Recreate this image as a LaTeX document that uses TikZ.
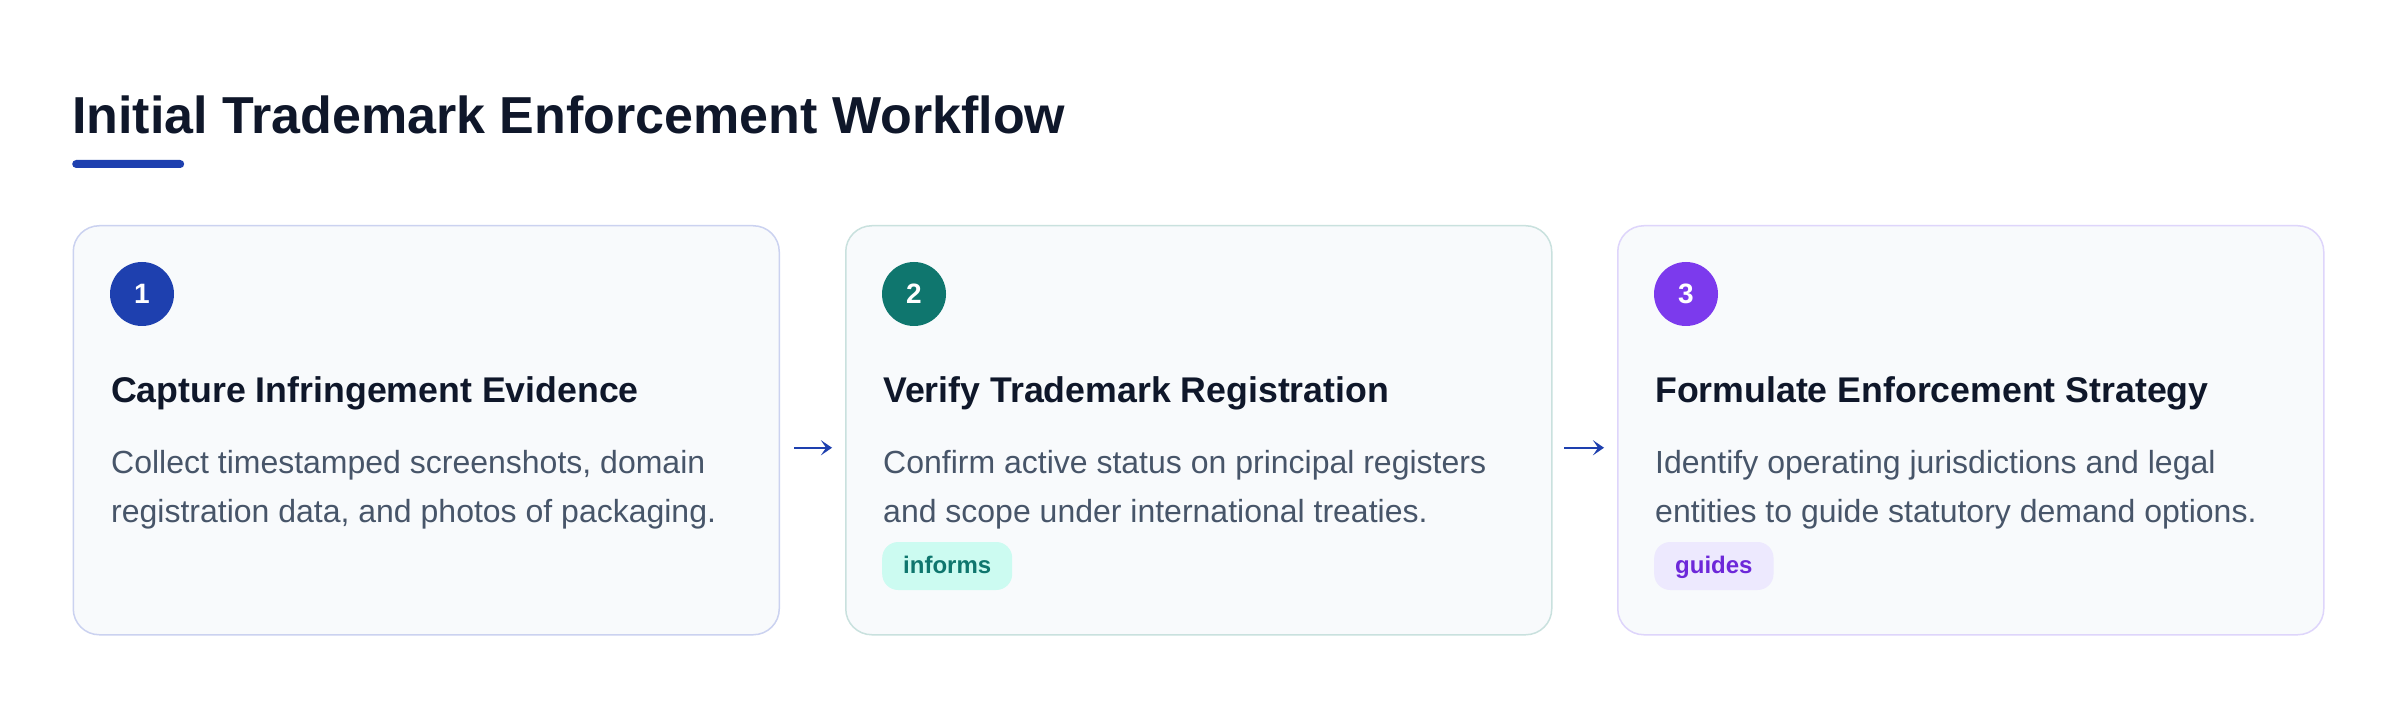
\documentclass[tikz,border=0pt]{standalone}
\usepackage{fontspec}
\setmainfont{Liberation Sans}
\usetikzlibrary{arrows.meta,calc}
\definecolor{ink}{HTML}{0F172A}
\definecolor{bodyc}{HTML}{475569}
\definecolor{cardbg}{HTML}{F8FAFC}
\definecolor{blueA}{HTML}{1E40AF}
\definecolor{tealA}{HTML}{0F766E}
\definecolor{violetA}{HTML}{7C3AED}
\definecolor{bordA}{HTML}{CBD2F0}
\definecolor{bordB}{HTML}{C9E1DE}
\definecolor{bordC}{HTML}{DED5FB}
\definecolor{pillB}{HTML}{CCFBF1}
\definecolor{pillBtext}{HTML}{0F766E}
\definecolor{pillC}{HTML}{EDE9FE}
\definecolor{pillCtext}{HTML}{6D28D9}
\begin{document}
\begin{tikzpicture}[x=1pt,y=-1pt,
  card/.style={draw=#1, line width=1.5pt, fill=cardbg, rounded corners=26pt,
    minimum width=706pt, minimum height=409pt, inner sep=0pt, anchor=north west},
  badge/.style={circle, fill=#1, minimum size=64pt, inner sep=0pt, text=white,
    font=\fontsize{28}{34}\selectfont\bfseries},
  heading/.style={anchor=base west, inner sep=0pt, text=ink,
    font=\fontsize{35.7}{43}\selectfont\bfseries},
  bodytext/.style={anchor=base west, inner sep=0pt, text=bodyc,
    font=\fontsize{32}{49}\selectfont},
  pill/.style={anchor=base west, fill=#1, rounded corners=16pt, inner xsep=21pt,
    inner ysep=0pt, text height=31pt, text depth=17pt,
    font=\fontsize{24}{29}\selectfont\bfseries},
  flow/.style={draw=blueA, line width=2pt,
    -{Stealth[length=11pt,width=15pt,inset=5pt]}}
]
\useasboundingbox[fill=white] (0,0) rectangle (2400,708);

% title
\node[anchor=base west, inner sep=0pt, text=ink,
  font=\fontsize{52}{62}\selectfont\bfseries] (title) at (72,134)
  {Initial Trademark Enforcement Workflow};
\node[fill=blueA, rounded corners=4pt, minimum width=112pt, minimum height=8pt,
  inner sep=0pt, anchor=west] (rule) at (72,164) {};

% cards
\node[card=bordA] (c1) at (72.5,225) {};
\node[card=bordB] (c2) at (845,225) {};
\node[card=bordC] (c3) at (1617,225) {};

% card 1
\node[badge=blueA] (b1) at ($(c1.north west)+(69.5,69)$) {1};
\node[heading] (h1) at ($(c1.north west)+(38.5,177)$) {Capture Infringement Evidence};
\node[bodytext] (t1) at ($(c1.north west)+(38.5,248)$)
  {\parbox[t]{660pt}{Collect timestamped screenshots, domain\\registration data, and photos of packaging.}};

% card 2
\node[badge=tealA] (b2) at ($(c2.north west)+(69,69)$) {2};
\node[heading] (h2) at ($(c2.north west)+(38,177)$) {Verify Trademark Registration};
\node[bodytext] (t2) at ($(c2.north west)+(38,248)$)
  {\parbox[t]{660pt}{Confirm active status on principal registers\\and scope under international treaties.}};
\node[pill=pillB, text=pillBtext] (p2) at ($(c2.north west)+(37,348)$) {informs};

% card 3
\node[badge=violetA] (b3) at ($(c3.north west)+(69,69)$) {3};
\node[heading] (h3) at ($(c3.north west)+(38,177)$) {Formulate Enforcement Strategy};
\node[bodytext] (t3) at ($(c3.north west)+(38,248)$)
  {\parbox[t]{660pt}{Identify operating jurisdictions and legal\\entities to guide statutory demand options.}};
\node[pill=pillC, text=pillCtext] (p3) at ($(c3.north west)+(37,348)$) {guides};

% arrows
\draw[flow] ($(c1.east)+(14,17.5)$) -- ($(c2.west)+(-13,17.5)$);
\draw[flow] ($(c2.east)+(11.5,17.5)$) -- ($(c3.west)+(-13,17.5)$);
\end{tikzpicture}
\end{document}
